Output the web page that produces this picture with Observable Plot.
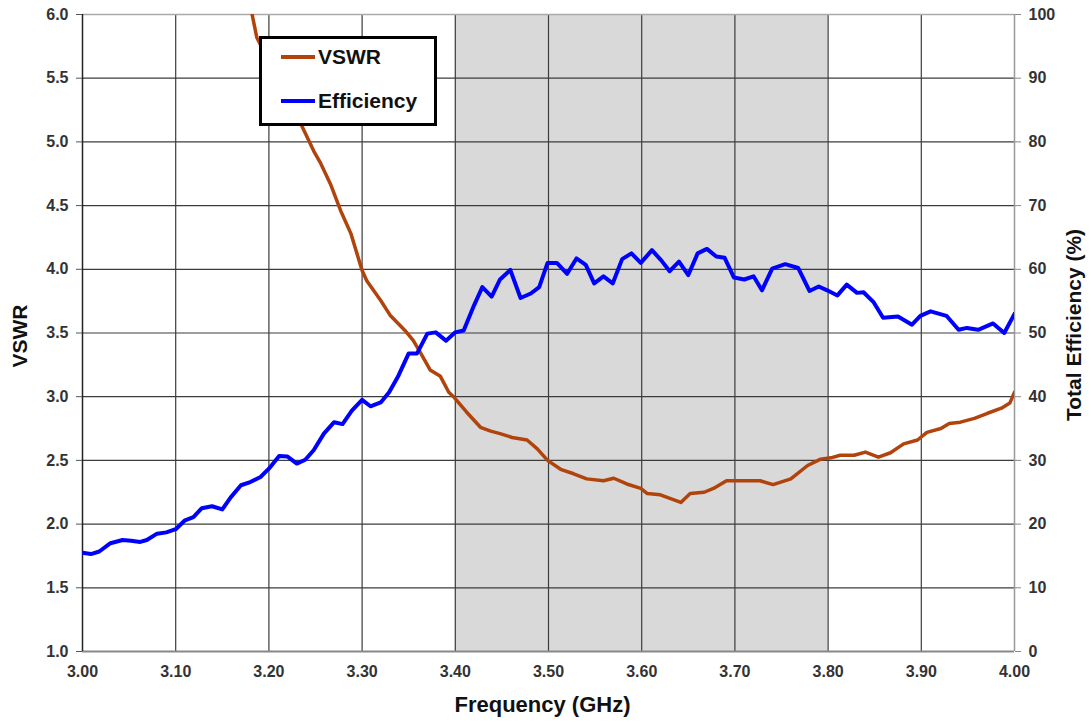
<!DOCTYPE html>
<html><head><meta charset="utf-8">
<script src="https://cdn.jsdelivr.net/npm/d3@7"></script>
<script src="https://cdn.jsdelivr.net/npm/@observablehq/plot@0.6"></script>
<style>
body{margin:0;background:#fff;font-family:"Liberation Sans",Arial,sans-serif;}
#wrap{position:relative;width:1091px;height:722px;}
#legend{position:absolute;left:259px;top:36px;width:178px;height:90px;box-sizing:border-box;border:3px solid #000;background:#fff;}
.sw{position:absolute;left:19px;width:34px;height:4px;}
.lt{position:absolute;left:56px;height:24px;line-height:24px;font-size:21px;font-weight:bold;color:#111;white-space:nowrap;}
</style></head>
<body>
<div id="wrap"></div>
<script>
// Efficiency (%) vs frequency (GHz)
const effFreq = [3.000,3.009,3.018,3.030,3.043,3.052,3.062,3.069,3.080,3.090,
 3.100,3.110,3.119,3.128,3.139,3.150,3.159,3.170,3.180,3.191,
 3.200,3.211,3.220,3.230,3.239,3.248,3.259,3.270,3.279,3.289,
 3.300,3.309,3.320,3.329,3.339,3.350,3.359,3.370,3.379,3.390,
 3.400,3.409,3.420,3.429,3.439,3.448,3.459,3.470,3.481,3.490,
 3.499,3.509,3.520,3.530,3.540,3.549,3.559,3.569,3.579,3.589,
 3.599,3.611,3.621,3.630,3.640,3.650,3.660,3.670,3.680,3.689,
 3.699,3.710,3.720,3.729,3.740,3.754,3.768,3.780,3.790,3.799,
 3.810,3.820,3.831,3.838,3.849,3.859,3.875,3.890,3.899,3.910,
 3.927,3.940,3.949,3.961,3.977,3.989,4.000];
const effVals = [15.5,15.3,15.7,17.0,17.5,17.4,17.2,17.5,18.5,18.7,
 19.2,20.6,21.1,22.5,22.8,22.3,24.2,26.1,26.6,27.4,
 28.7,30.7,30.6,29.5,30.1,31.6,34.2,36.0,35.7,37.8,
 39.5,38.5,39.1,40.7,43.3,46.8,46.8,49.9,50.1,48.8,
 50.1,50.4,54.3,57.2,55.7,58.4,59.9,55.5,56.2,57.2,
 61.0,61.0,59.3,61.7,60.7,57.8,58.9,57.8,61.6,62.5,
 61.0,63.0,61.4,59.7,61.2,59.1,62.5,63.2,62.0,61.8,
 58.7,58.4,58.9,56.7,60.1,60.8,60.2,56.6,57.3,56.7,
 55.9,57.6,56.3,56.4,54.8,52.4,52.6,51.3,52.7,53.4,
 52.7,50.5,50.8,50.5,51.5,50.0,53.0];
// VSWR vs frequency (GHz)
const vswrFreq = [3.182,3.187,3.236,3.248,3.255,3.266,3.277,3.288,3.300,3.305,
 3.320,3.330,3.346,3.355,3.363,3.373,3.384,3.393,3.398,3.412,
 3.427,3.438,3.448,3.461,3.477,3.488,3.499,3.513,3.527,3.541,
 3.559,3.570,3.584,3.599,3.606,3.620,3.631,3.642,3.652,3.667,
 3.677,3.691,3.706,3.727,3.741,3.760,3.778,3.792,3.803,3.813,
 3.828,3.840,3.854,3.867,3.881,3.896,3.906,3.921,3.930,3.942,
 3.957,3.971,3.986,3.995,4.000];
const vswrVals = [6.0,5.82,5.115,4.93,4.84,4.67,4.46,4.28,3.99,3.91,
 3.755,3.64,3.52,3.44,3.34,3.21,3.16,3.035,3.00,2.88,
 2.76,2.73,2.71,2.68,2.66,2.59,2.50,2.43,2.395,2.355,
 2.34,2.36,2.315,2.28,2.24,2.23,2.20,2.17,2.24,2.25,
 2.28,2.34,2.34,2.34,2.31,2.355,2.46,2.51,2.52,2.54,
 2.54,2.565,2.525,2.56,2.63,2.66,2.72,2.75,2.79,2.80,
 2.83,2.87,2.91,2.95,3.035];
const xTicks = [3.0,3.1,3.2,3.3,3.4,3.5,3.6,3.7,3.8,3.9,4.0];
const yTicks = [1.0,1.5,2.0,2.5,3.0,3.5,4.0,4.5,5.0,5.5,6.0];
const band = [3.4, 3.8];
const seriesNames = ["VSWR", "Efficiency"];
const seriesColors = ["#b0440c", "#0000ff"];

const effData = effFreq.map((f,i)=>({f, v: 1 + effVals[i]/20}));
const vswrData = vswrFreq.map((f,i)=>({f, v: vswrVals[i]}));
const inner = xTicks.slice(1,-1), innerY = yTicks.slice(1,-1);

const chart = Plot.plot({
  width: 1091, height: 722,
  marginLeft: 82, marginRight: 77, marginTop: 14, marginBottom: 71,
  x: {domain: [3.0, 4.0]},
  y: {domain: [1, 6]},
  style: {fontFamily: "'Liberation Sans', Arial, sans-serif", fontSize: "16px", fontWeight: "bold", color: "#333", background: "#fff"},
  marks: [
    Plot.rectX([band], {x1: d=>d[0], x2: d=>d[1], y1: 1, y2: 6, fill: "#d9d9d9"}),
    Plot.ruleX(inner, {stroke: "#3c3c3c", strokeWidth: 1.2}),
    Plot.ruleY(innerY, {stroke: "#3c3c3c", strokeWidth: 1.2}),
    Plot.ruleY([6], {stroke: "#aaa", strokeWidth: 1.5}),
    Plot.ruleY([1], {stroke: "#888", strokeWidth: 2}),
    Plot.ruleX([4], {stroke: "#999", strokeWidth: 1.5}),
    Plot.ruleX([3], {stroke: "#222", strokeWidth: 1.5}),
    Plot.line(vswrData, {x: "f", y: "v", stroke: seriesColors[0], strokeWidth: 3.5, clip: true}),
    Plot.line(effData, {x: "f", y: "v", stroke: seriesColors[1], strokeWidth: 4, clip: true}),
    Plot.axisY({anchor: "left", ticks: yTicks, tickFormat: d3.format(".1f"), tickSize: 6, tickPadding: 8, label: null, stroke: "#555"}),
    Plot.axisY({anchor: "right", ticks: yTicks, tickFormat: d => String(Math.round((d-1)*20)), tickSize: 6, tickPadding: 8, label: null, stroke: "#888"}),
    Plot.axisX({anchor: "bottom", ticks: xTicks, tickFormat: d3.format(".2f"), tickSize: 0, tickPadding: 14, label: null}),
    Plot.text(["VSWR"], {frameAnchor: "left", dx: -62, dy: 3, rotate: -90, textAnchor: "middle", fontSize: 21, fontWeight: "bold", fill: "#111"}),
    Plot.text(["Total Efficiency (%)"], {frameAnchor: "right", dx: 60, dy: -8, rotate: -90, textAnchor: "middle", fontSize: 21, fontWeight: "bold", fill: "#111"}),
    Plot.text(["Frequency (GHz)"], {frameAnchor: "bottom", dy: 60, dx: -6, textAnchor: "middle", fontSize: 22, fontWeight: "bold", fill: "#111"})
  ]
});
const wrap = document.getElementById("wrap");
wrap.appendChild(chart);
const leg = document.createElement("div");
leg.id = "legend";
seriesNames.forEach((n,i)=>{
  const sw = document.createElement("div");
  sw.className = "sw"; sw.style.background = seriesColors[i];
  sw.style.top = (16 + i*44) + "px";
  const t = document.createElement("div");
  t.className = "lt"; t.textContent = n;
  t.style.top = (6 + i*44) + "px";
  leg.appendChild(sw); leg.appendChild(t);
});
wrap.appendChild(leg);
</script>
</body></html>
